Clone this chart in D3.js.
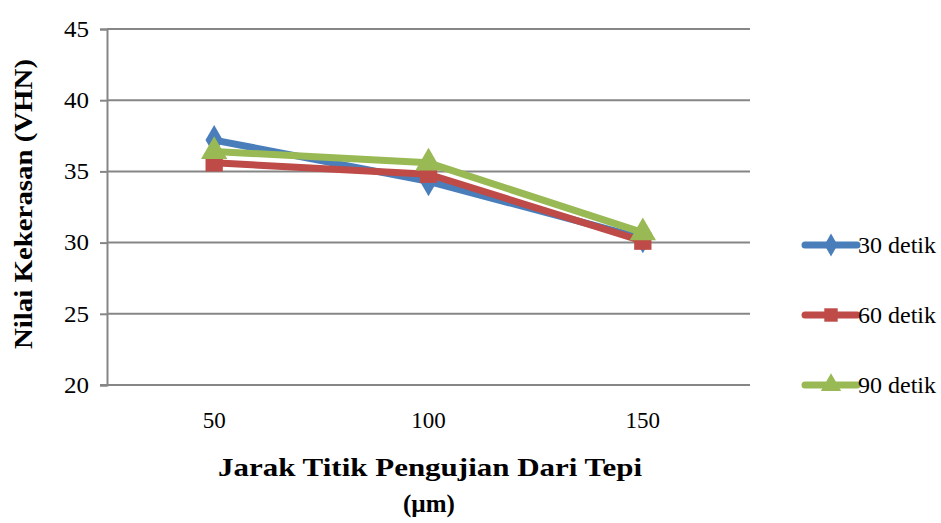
<!DOCTYPE html>
<html>
<head>
<meta charset="utf-8">
<script src="https://cdn.jsdelivr.net/npm/d3@7"></script>
<style>
  html, body { margin: 0; padding: 0; background: #fff; }
  svg { display: block; }
</style>
</head>
<body>
<svg id="chart" width="941" height="523" font-family="Liberation Serif"></svg>
<script>
// Hardness (VHN) at test-point distance from the edge, per holding time
const categories = ["50", "100", "150"];
const yTicks = [20, 25, 30, 35, 40, 45];
const seriesNames = ["30 detik", "60 detik", "90 detik"];
const values30 = [37.2, 34.3, 30.3];
const values60 = [35.6, 34.8, 30.1];
const values90 = [36.4, 35.6, 30.7];
const colors = ["#4a7ebb", "#be4b48", "#98b954"];
const markerTypes = [d3.symbolDiamond, d3.symbolSquare, d3.symbolTriangle];

const series = seriesNames.map((name, i) => ({
  name,
  values: [values30, values60, values90][i],
  color: colors[i],
  symbol: markerTypes[i]
}));

const svg = d3.select("#chart");
const margin = { left: 107, right: 191, top: 29, bottom: 138 };
const W = 941, H = 523;

const x = d3.scaleBand()
  .domain(categories)
  .range([margin.left, W - margin.right]);
const y = d3.scaleLinear()
  .domain([20, 45])
  .range([H - margin.bottom, margin.top]);

const axisColor = "#868686";
const fontFamily = "Liberation Serif";

// horizontal gridlines
svg.append("g")
  .selectAll("line")
  .data(yTicks.filter(t => t > 20))
  .join("line")
  .attr("x1", margin.left).attr("x2", W - margin.right)
  .attr("y1", d => y(d)).attr("y2", d => y(d))
  .attr("stroke", axisColor).attr("stroke-width", 2);

// y axis
const yAxis = svg.append("g")
  .attr("transform", `translate(${margin.left},0)`)
  .call(d3.axisLeft(y).tickValues(yTicks).tickSize(7).tickPadding(11).tickFormat(d3.format("d")));
yAxis.attr("font-family", fontFamily).attr("font-size", 23);
yAxis.select(".domain").attr("stroke", axisColor).attr("stroke-width", 2);
yAxis.selectAll(".tick line").attr("stroke", axisColor).attr("stroke-width", 2);
yAxis.selectAll(".tick text").attr("fill", "#000").attr("textLength", 25).attr("lengthAdjust", "spacingAndGlyphs");

// x axis
const xAxis = svg.append("g")
  .attr("transform", `translate(0,${y(20)})`)
  .call(d3.axisBottom(x).tickSize(0).tickPadding(27));
xAxis.attr("font-family", fontFamily).attr("font-size", 23);
xAxis.select(".domain").attr("stroke", axisColor).attr("stroke-width", 2)
  .attr("d", `M${margin.left - 7},0H${W - margin.right}`);
xAxis.selectAll(".tick text").attr("fill", "#000");

// series lines and markers
const line = d3.line()
  .x((d, i) => x(categories[i]) + x.bandwidth() / 2)
  .y(d => y(d));

series.forEach(s => {
  const g = svg.append("g");
  g.append("path")
    .datum(s.values)
    .attr("d", line)
    .attr("fill", "none")
    .attr("stroke", s.color)
    .attr("stroke-width", 7)
    .attr("stroke-linejoin", "round");
  g.selectAll("path.marker")
    .data(s.values)
    .join("path")
    .attr("class", "marker")
    .attr("transform", (d, i) => `translate(${x(categories[i]) + x.bandwidth() / 2},${y(d)})`)
    .attr("d", d3.symbol().type(s.symbol).size(s.symbol === d3.symbolDiamond ? 260 : 300))
    .attr("fill", s.color);
});

// legend
const legend = svg.append("g").attr("font-family", fontFamily).attr("font-size", 23);
series.forEach((s, i) => {
  const ly = 245 + i * 70;
  const lg = legend.append("g").attr("transform", `translate(805,${ly})`);
  lg.append("line")
    .attr("x1", 0).attr("x2", 52).attr("y1", 0).attr("y2", 0)
    .attr("stroke", s.color).attr("stroke-width", 7).attr("stroke-linecap", "round");
  lg.append("path")
    .attr("transform", "translate(26,0)")
    .attr("d", d3.symbol().type(s.symbol).size(s.symbol === d3.symbolDiamond ? 150 : 180))
    .attr("fill", s.color);
  lg.append("text")
    .attr("x", 53).attr("y", 8)
    .attr("textLength", 78).attr("lengthAdjust", "spacingAndGlyphs")
    .attr("fill", "#000")
    .text(s.name);
});

// axis titles
const titles = svg.append("g")
  .attr("font-family", fontFamily).attr("font-size", 25).attr("font-weight", "bold")
  .attr("text-anchor", "middle").attr("fill", "#000");
titles.append("text")
  .attr("x", 430).attr("y", 476)
  .attr("textLength", 424).attr("lengthAdjust", "spacingAndGlyphs")
  .text("Jarak Titik Pengujian Dari Tepi");
titles.append("text")
  .attr("x", 429).attr("y", 512)
  .text("(µm)");
titles.append("text")
  .attr("transform", "translate(32,204) rotate(-90)")
  .attr("textLength", 290).attr("lengthAdjust", "spacingAndGlyphs")
  .text("Nilai Kekerasan (VHN)");
</script>
</body>
</html>
